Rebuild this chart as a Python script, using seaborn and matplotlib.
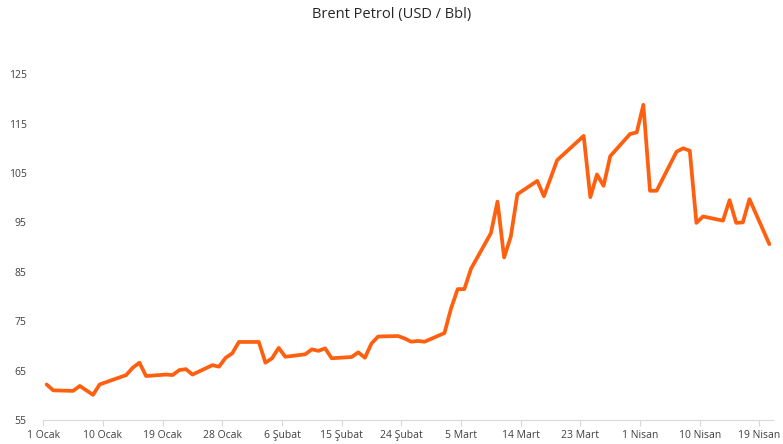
import pandas as pd
import seaborn as sns
import matplotlib.pyplot as plt

dates = ["01-01", "01-02", "01-05", "01-06", "01-08", "01-09", "01-13", "01-14", "01-15", "01-16",
         "01-19", "01-20", "01-21", "01-22", "01-23", "01-26", "01-27", "01-28", "01-29", "01-30",
         "02-02", "02-03", "02-04", "02-05", "02-06", "02-09", "02-10", "02-11", "02-12", "02-13",
         "02-16", "02-17", "02-18", "02-19", "02-20", "02-23", "02-24", "02-25", "02-26", "02-27",
         "03-02", "03-03", "03-04", "03-05", "03-06", "03-09", "03-10", "03-11", "03-12", "03-13",
         "03-16", "03-17", "03-19", "03-23", "03-24", "03-25", "03-26", "03-27", "03-30", "03-31",
         "04-01", "04-02", "04-03", "04-06", "04-07", "04-08", "04-09", "04-10", "04-13", "04-14",
         "04-15", "04-16", "04-17", "04-20"]
prices = [62.2, 61.0, 60.9, 61.9, 60.1, 62.2, 64.1, 65.6, 66.6, 63.9,
          64.2, 64.1, 65.1, 65.3, 64.2, 66.1, 65.8, 67.6, 68.5, 70.8,
          70.8, 66.6, 67.5, 69.6, 67.8, 68.3, 69.3, 69.0, 69.5, 67.5,
          67.75, 68.7, 67.6, 70.5, 71.9, 72.0, 71.5, 70.85, 71.0, 70.85,
          72.6, 77.6, 81.5, 81.5, 85.6, 92.8, 99.2, 87.9, 92.1, 100.7,
          103.4, 100.3, 107.6, 112.5, 100.1, 104.7, 102.4, 108.4, 112.9, 113.2,
          118.8, 101.4, 101.4, 109.3, 110.0, 109.5, 94.9, 96.2, 95.35, 99.5,
          94.9, 95.0, 99.7, 90.6]
tick_labels = ["1 Ocak", "10 Ocak", "19 Ocak", "28 Ocak", "6 Şubat", "15 Şubat", "24 Şubat",
               "5 Mart", "14 Mart", "23 Mart", "1 Nisan", "10 Nisan", "19 Nisan"]
y_ticks = [55, 65, 75, 85, 95, 105, 115, 125]

dt = pd.to_datetime(["2026-" + d for d in dates])
df = pd.DataFrame({"day": (dt - pd.Timestamp("2026-01-01")).days + 0.5, "price": prices})

sns.set_style("white")
plt.rcParams["font.family"] = ["Open Sans", "DejaVu Sans"]

fig = plt.figure(figsize=(7.83, 4.44), dpi=100)
ax = fig.add_axes([0.0553, 0.054, 0.9315, 0.779])
sns.lineplot(data=df, x="day", y="price", color="#FF6010", linewidth=2.7, ax=ax)

ax.set_xlim(0, 110)
ax.set_ylim(55, 125)
ax.set_xticks(range(0, 110, 9))
ax.set_xticklabels(tick_labels)
ax.set_yticks(y_ticks)
ax.set_xlabel("")
ax.set_ylabel("")
ax.tick_params(axis="x", length=4, color="#d9d9d9", labelsize=7.5, labelcolor="#404040", pad=3, bottom=True)
ax.tick_params(axis="y", length=0, labelsize=7.5, labelcolor="#404040", pad=12)
for s in ["top", "right", "left"]:
    ax.spines[s].set_visible(False)
ax.spines["bottom"].set_color("#d9d9d9")
ax.spines["bottom"].set_linewidth(0.8)

fig.text(0.5, 0.968, "Brent Petrol (USD / Bbl)", ha="center", va="center", fontsize=10.5, color="#262626")
fig.savefig("out.png", dpi=100)
